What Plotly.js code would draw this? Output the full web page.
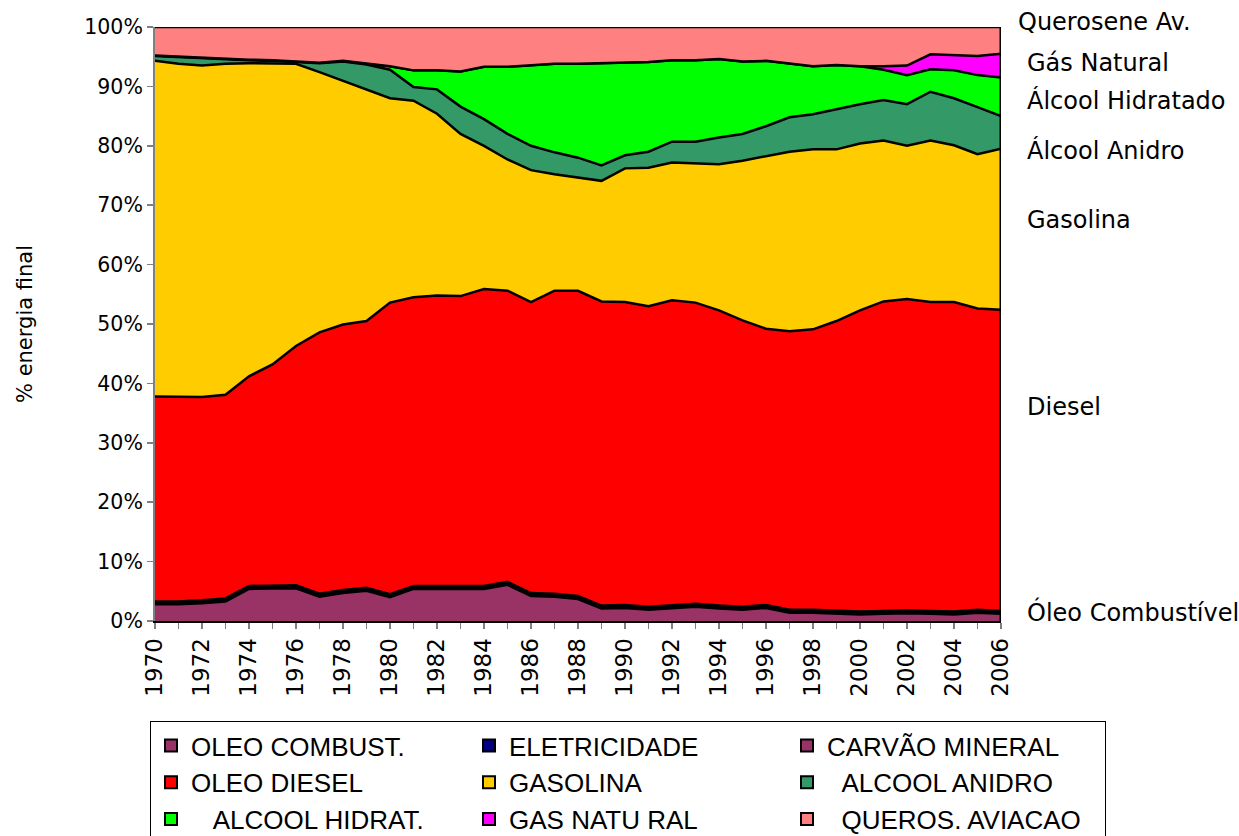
<!DOCTYPE html>
<html>
<head>
<meta charset="utf-8">
<script src="https://cdn.plot.ly/plotly-3.0.1.min.js"></script>
<style>html,body{margin:0;padding:0;background:#fff;}#chart{width:1239px;height:836px;}</style>
</head>
<body>
<div id="chart"></div>
<script>
const years = [1970,1971,1972,1973,1974,1975,1976,1977,1978,1979,1980,1981,1982,1983,1984,1985,1986,1987,1988,1989,1990,1991,1992,1993,1994,1995,1996,1997,1998,1999,2000,2001,2002,2003,2004,2005,2006];

const oleoCombust = [2.8,2.8,3.0,3.3,5.4,5.4,5.5,4.1,4.7,5.1,4.0,5.4,5.4,5.3,5.4,6.1,4.2,4.1,3.7,2.1,2.2,1.9,2.1,2.4,2.1,1.9,2.2,1.4,1.4,1.3,1.1,1.2,1.3,1.2,1.1,1.4,1.2];
const eletricidade = [0.2,0.2,0.2,0.2,0.2,0.2,0.2,0.2,0.2,0.2,0.2,0.2,0.2,0.2,0.2,0.2,0.2,0.2,0.2,0.2,0.2,0.2,0.2,0.2,0.2,0.2,0.2,0.2,0.2,0.2,0.2,0.2,0.2,0.2,0.2,0.2,0.2];
const carvaoMineral = [0.3,0.3,0.3,0.3,0.3,0.3,0.3,0.3,0.3,0.3,0.3,0.3,0.3,0.3,0.3,0.3,0.3,0.3,0.3,0.3,0.3,0.3,0.3,0.3,0.3,0.3,0.3,0.3,0.3,0.3,0.3,0.3,0.3,0.3,0.3,0.3,0.3];
const oleoDiesel = [34.5,34.4,34.2,34.3,35.3,37.3,40.3,44.0,44.7,44.9,49.1,48.6,48.9,48.9,50.0,49.0,49.0,51.0,51.4,51.2,51.0,50.6,51.4,50.7,49.7,48.2,46.5,46.9,47.2,48.7,50.7,52.1,52.4,52.0,52.1,50.7,50.7];
const gasolina = [56.5,56.1,55.8,55.7,52.7,50.7,47.5,43.8,41.0,38.9,34.4,33.1,30.6,27.3,24.1,22.1,22.2,19.6,19.0,20.3,22.5,23.3,23.2,23.5,24.6,26.9,29.1,30.2,30.3,28.9,28.1,27.1,25.8,27.2,26.4,26.0,27.1];
const alcoolAnidro = [0.8,1.1,1.2,0.8,0.5,0.4,0.3,1.5,3.3,4.3,4.8,2.3,4.1,4.6,4.5,4.3,4.1,3.7,3.4,2.6,2.2,2.7,3.5,3.6,4.5,4.5,5.0,5.8,5.9,6.8,6.6,6.8,7.0,8.2,7.9,7.9,5.5];
const alcoolHidrat = [0.1,0.1,0.1,0.1,0.1,0.1,0.1,0.1,0.1,0.2,0.6,2.8,3.2,5.9,8.8,11.3,13.6,14.9,15.8,17.2,15.5,15.1,13.7,13.7,13.2,12.2,11.0,9.0,8.1,7.4,6.4,5.1,4.9,3.8,4.7,5.4,6.5];
const gasNatural = [0,0,0,0,0,0,0,0,0,0,0,0,0,0,0,0,0,0,0,0,0,0,0,0,0,0,0,0,0,0,0,0.6,1.6,2.5,2.6,3.2,4.0];
const querosAviacao = [4.8,5.0,5.2,5.3,5.5,5.6,5.8,6.0,5.7,6.1,6.6,7.3,7.3,7.5,6.7,6.7,6.4,6.2,6.2,6.1,6.1,5.9,5.6,5.6,5.4,5.8,5.7,6.2,6.6,6.4,6.6,6.6,6.5,4.6,4.7,4.9,4.5];

const seriesNames = ["OLEO COMBUST.","ELETRICIDADE","CARVÃO MINERAL","OLEO DIESEL","GASOLINA","\u00a0\u00a0ALCOOL ANIDRO","\u00a0\u00a0\u00a0ALCOOL HIDRAT.","GAS NATU RAL","\u00a0\u00a0QUEROS. AVIACAO"];
const seriesValues = [oleoCombust,eletricidade,carvaoMineral,oleoDiesel,gasolina,alcoolAnidro,alcoolHidrat,gasNatural,querosAviacao];
const seriesColors = ["#993366","#000080","#993366","#FF0000","#FFCC00","#339966","#00FF00","#FF00FF","#FF8080"];

const rightLabels = ["Querosene Av.","Gás Natural","Álcool Hidratado","Álcool Anidro","Gasolina","Diesel","Óleo Combustível"];

const traces = [];
seriesValues.forEach((vals,i)=>{
  traces.push({
    type:'scatter', mode:'lines', x:years, y:vals, stackgroup:'one',
    fill:'tonexty', fillcolor:seriesColors[i],
    line:{color:'#000000', width:2.5, shape:'linear'},
    showlegend:false, hoverinfo:'skip', name:seriesNames[i]
  });
});
seriesNames.forEach((n,i)=>{
  traces.push({
    type:'scatter', mode:'markers', x:[null], y:[null], name:n,
    marker:{symbol:'square', size:12, color:seriesColors[i], line:{color:'#000000', width:2}},
    showlegend:true, hoverinfo:'skip'
  });
});

const L = 155, R = 1001, T = 27, B = 621;
const W = R-L, H = B-T;
function px2x(p){return (p-L)/W;}
function py2y(p){return (B-p)/H;}

const labelPos = [[1016,22],[1025,63],[1025,100],[1025,150],[1025,220],[1025,407],[1025,612]];
const annotations = rightLabels.map((t,i)=>({
  text:t, xref:'paper', yref:'paper', x:px2x(labelPos[i][0]), y:py2y(labelPos[i][1]),
  xanchor:'left', yanchor:'middle', showarrow:false,
  font:{family:'DejaVu Sans', size:24, color:'#000'}
}));

const layout = {
  width:1239, height:836,
  margin:{l:L, r:1239-R, t:T, b:836-B, autoexpand:false},
  paper_bgcolor:'#fff', plot_bgcolor:'#fff',
  showlegend:true,
  xaxis:{
    range:[1970,2006], tick0:1970, dtick:2, tickangle:-90, automargin:false,
    ticks:'outside', ticklen:6, tickcolor:'#808080', tickwidth:1.5,
    minor:{dtick:1, ticks:'outside', ticklen:6, tickcolor:'#808080', tickwidth:1.5},
    showgrid:false, zeroline:false, showline:true, linecolor:'#000', linewidth:2,
    tickfont:{family:'DejaVu Sans', size:23, color:'#000'}, fixedrange:true
  },
  yaxis:{
    range:[0,100], dtick:10, ticksuffix:'%', automargin:false,
    ticks:'outside', ticklen:6, tickcolor:'#808080', tickwidth:1.5,
    showgrid:false, zeroline:false, showline:true, linecolor:'#808080', linewidth:2,
    tickfont:{family:'DejaVu Sans', size:20.5, color:'#000'},
    title:{text:'% energia final', font:{family:'DejaVu Sans', size:21, color:'#000'}, standoff:46},
    fixedrange:true
  },
  legend:{
    orientation:'h', x:px2x(150), y:py2y(721), xanchor:'left', yanchor:'top',
    traceorder:'normal', entrywidth:273, entrywidthmode:'pixels',
    bordercolor:'#000', borderwidth:1, bgcolor:'#fff',
    font:{family:'Liberation Sans', size:26, color:'#000'}
  },
  shapes:[
    {type:'line', xref:'x', yref:'paper', x0:2006, x1:2006, y0:0, y1:1, line:{color:'#000', width:3}}
  ],
  annotations:annotations
};

Plotly.newPlot('chart', traces, layout, {displayModeBar:false, staticPlot:true});
</script>
</body>
</html>
